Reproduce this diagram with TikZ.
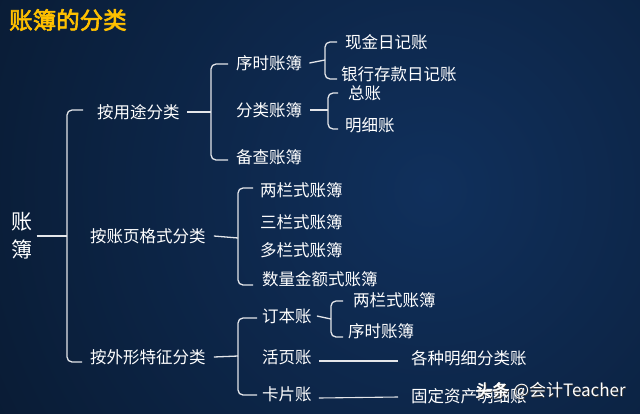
\documentclass[tikz,border=0pt]{standalone}
\usepackage{fontspec}
\newfontfamily\cjk{Noto Sans CJK SC}
\newfontfamily\cjkbold{Noto Sans CJK SC}[FakeBold=2.5]
\usepackage{xcolor}
\usetikzlibrary{positioning, calc}
\definecolor{titleyellow}{HTML}{FFC000}
\definecolor{linegrey}{HTML}{E4E6EA}
\definecolor{bginner}{HTML}{10305C}
\definecolor{bgouter}{HTML}{03080F}
\tikzstyle{lbl} = [anchor=west, inner sep=0pt, text=white, font=\cjk\fontsize{16.5}{18}\selectfont]
\tikzstyle{brace} = [draw=linegrey, line width=1.3pt, rounded corners=5pt]
\tikzstyle{plain} = [draw=linegrey, line width=1.1pt]

\begin{document}
\begin{tikzpicture}[x=1pt, y=-1pt]
        \useasboundingbox (0,0) rectangle (640,413);
        % background
        \begin{scope}
        \clip (0,0) rectangle (640,413);
        \shade [inner color=bginner, outer color=bgouter] (-530,-770) rectangle (1390,1150);
        \end{scope}

        \node (title) [anchor=west, inner sep=0pt, text=titleyellow, font=\cjkbold\fontsize{23.5}{26}\selectfont] at (9,20) {账簿的分类};
        \node (root) [inner sep=0pt, text=white, align=center, font=\cjk\fontsize{21}{28}\selectfont] at (22,236) {账\\簿};

        % level 1
        \node (ytfl) [lbl] at (97,112) {按用途分类};
        \node (zygs) [lbl] at (90,236) {按账页格式分类};
        \node (wxtz) [lbl] at (90,357) {按外形特征分类};

        % by use
        \node (xszb) [lbl] at (236,63) {序时账簿};
        \node (flzb) [lbl] at (236,110) {分类账簿};
        \node (bczb) [lbl] at (236,157) {备查账簿};
        \node (xjrj) [lbl] at (345,42) {现金日记账};
        \node (yhck) [lbl] at (341,74) {银行存款日记账};
        \node (zz) [lbl] at (348,93) {总账};
        \node (mxz) [lbl] at (345,125) {明细账};

        % by page format
        \node (lls) [lbl] at (260,190) {两栏式账簿};
        \node (sls) [lbl] at (260,222) {三栏式账簿};
        \node (dls) [lbl] at (260,250) {多栏式账簿};
        \node (slje) [lbl] at (262,279) {数量金额式账簿};

        % by shape
        \node (dbz) [lbl] at (262,316) {订本账};
        \node (hyz) [lbl] at (262,357) {活页账};
        \node (kpz) [lbl] at (262,394) {卡片账};
        \node (lls2) [lbl] at (353,300) {两栏式账簿};
        \node (xszb2) [lbl] at (348,331) {序时账簿};
        \node (gzmx) [lbl] at (411,358) {各种明细分类账};
        \node (gdzc) [lbl] at (411,396) {固定资产明细账};

        % braces
        \coordinate (k0) at (67,236);
        \coordinate (k1) at (211,112);
        \coordinate (k2) at (325,60);
        \coordinate (k3) at (328,110);
        \coordinate (k4) at (238,238);
        \coordinate (k5) at (238,356);
        \coordinate (k6) at (331,319);

        \draw [brace] ($(ytfl.west)+(-14,-2)$) -| (k0) |- ($(wxtz.west)+(-8,5)$);
        \draw [brace] ($(root.east)+(4,0)$) -- (k0);
        \draw [brace] ($(xszb.west)+(-8,1)$) -| (k1) |- ($(bczb.west)+(-8,3)$);
        \draw [brace] ($(ytfl.east)+(7,0)$) -- (k1);
        \draw [brace] ($(xjrj.west)+(-8,0)$) -| (k2) |- ($(yhck.west)+(-4,5)$);
        \draw [brace] ($(xszb.east)+(7,0)$) -- (k2);
        \draw [brace] ($(zz.west)+(-10,0)$) -| (k3) |- ($(mxz.west)+(-7,4)$);
        \draw [brace] ($(flzb.east)+(8,0)$) -- (k3);
        \draw [brace] ($(lls.west)+(-7,-2)$) -| (k4) |- ($(slje.west)+(-9,6)$);
        \draw [brace] ($(zygs.east)+(8,0)$) -- (k4);
        \draw [brace] ($(dbz.west)+(-5,2)$) -| (k5) |- ($(kpz.west)+(-5,1)$);
        \draw [brace] ($(wxtz.east)+(8,0)$) -- (k5);
        \draw [brace] ($(lls2.west)+(-10,1)$) -| (k6) |- ($(xszb2.west)+(-5,6)$);
        \draw [brace] ($(dbz.east)+(5,0)$) -- (k6);

        % straight links
        \draw [plain] ($(hyz.east)+(7,4)$) -- ($(gzmx.west)+(-13,3)$);
        \draw [plain] ($(kpz.east)+(7,4)$) -- ($(gdzc.west)+(-13,1)$);

        % watermark
        \node (wmshadow) [anchor=west, inner sep=0pt, text=black!80, font=\cjk\fontsize{17}{20}\selectfont] at (475.8,391.8) {{\cjkbold 头条} @会计Teacher};
        \node (wm) [anchor=west, inner sep=0pt, text=white, font=\cjk\fontsize{17}{20}\selectfont] at (475,391) {{\cjkbold 头条} @会计Teacher};
    \end{tikzpicture}
\end{document}
